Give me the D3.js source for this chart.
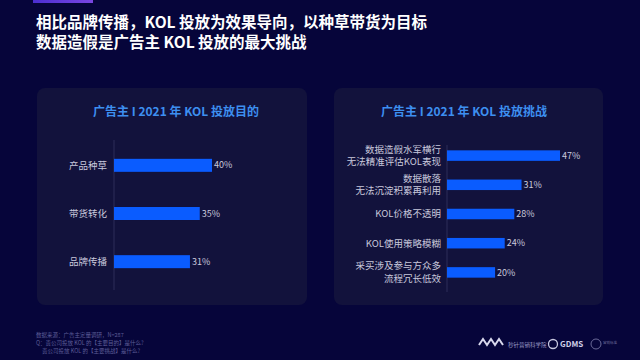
<!DOCTYPE html>
<html><head><meta charset="utf-8">
<script src="https://cdn.jsdelivr.net/npm/d3@7"></script>
<style>
html,body{margin:0;padding:0;background:#06053a;}
svg{display:block;font-family:"Noto Sans CJK SC","Noto Sans",sans-serif;}
</style></head>
<body>
<script>
const titleLines = ["相比品牌传播，KOL 投放为效果导向，以种草带货为目标", "数据造假是广告主 KOL 投放的最大挑战"];
const leftTitle = "广告主 I 2021 年 KOL 投放目的";
const rightTitle = "广告主 I 2021 年 KOL 投放挑战";
const purposeCats = ["产品种草", "带货转化", "品牌传播"];
const purposeVals = [40, 35, 31];
const challengeCats = [["数据造假水军横行", "无法精准评估KOL表现"], ["数据散落", "无法沉淀积累再利用"], ["KOL价格不透明"], ["KOL使用策略模糊"], ["采买涉及参与方众多", "流程冗长低效"]];
const challengeVals = [47, 31, 28, 24, 20];
const notes = ["数据来源：广告主定量调研，N=287", "Q：贵公司投放 KOL 的【主要目的】是什么?", "贵公司投放 KOL 的【主要挑战】是什么?"];

const W = 640, H = 360;
const svg = d3.select("body").append("svg").attr("width", W).attr("height", H);
const defs = svg.append("defs");
const g1 = defs.append("linearGradient").attr("id", "topbar").attr("x1", 0).attr("x2", 1);
g1.append("stop").attr("offset", 0).attr("stop-color", "#4b2fd0");
g1.append("stop").attr("offset", 1).attr("stop-color", "#7a46e0");
svg.append("rect").attr("width", W).attr("height", H).attr("fill", "#06053a");
svg.append("rect").attr("x", 33).attr("y", 0).attr("width", 60).attr("height", 3).attr("fill", "url(#topbar)");

svg.selectAll("text.title").data(titleLines).join("text")
  .attr("class", "title").attr("x", 36).attr("y", (d, i) => 28 + i * 20)
  .attr("fill", "#ffffff").attr("font-size", 15.5).attr("font-weight", 700).text(d => d);

// panels
const panels = [{x: 37, w: 270}, {x: 334, w: 269}];
svg.selectAll("rect.panel").data(panels).join("rect").attr("class", "panel")
  .attr("x", d => d.x).attr("y", 88).attr("width", d => d.w).attr("height", 217)
  .attr("rx", 8).attr("fill", "#12123c");

svg.append("text").attr("x", 176).attr("y", 116).attr("text-anchor", "middle")
  .attr("fill", "#3d8ff0").attr("font-size", 12).attr("font-weight", 700).text(leftTitle);
svg.append("text").attr("x", 464).attr("y", 116).attr("text-anchor", "middle")
  .attr("fill", "#3d8ff0").attr("font-size", 12).attr("font-weight", 700).text(rightTitle);

const barColor = "#0a5cff";
const labelColor = "#c9c9dc";

// left chart
const xL = d3.scaleLinear().domain([0, 40]).range([114, 212]);
const yL = d3.scaleBand().domain(purposeCats).range([141, 286]).paddingInner(0.73).paddingOuter(0.37);
svg.append("line").attr("x1", 114).attr("x2", 114).attr("y1", 140).attr("y2", 290).attr("stroke", "#2c2c58").attr("stroke-width", 1);
const gl = svg.append("g");
gl.selectAll("rect").data(purposeCats).join("rect")
  .attr("x", xL(0)).attr("y", d => yL(d)).attr("width", (d, i) => xL(purposeVals[i]) - xL(0))
  .attr("height", yL.bandwidth()).attr("fill", barColor);
gl.selectAll("text.cat").data(purposeCats).join("text").attr("class", "cat")
  .attr("x", 107).attr("y", d => yL(d) + yL.bandwidth() / 2).attr("dy", "0.35em")
  .attr("text-anchor", "end").attr("fill", labelColor).attr("font-size", 9.5).text(d => d);
gl.selectAll("text.val").data(purposeCats).join("text").attr("class", "val")
  .attr("x", (d, i) => xL(purposeVals[i]) + 2).attr("y", d => yL(d) + yL.bandwidth() / 2).attr("dy", "0.35em")
  .attr("fill", labelColor).attr("font-size", 9).text((d, i) => purposeVals[i] + "%");

// right chart
const keys = challengeCats.map(d => d.join(""));
const xR = d3.scaleLinear().domain([0, 47]).range([447, 560]);
const yR = d3.scaleBand().domain(keys).range([141, 287]).paddingInner(0.64).paddingOuter(0.32);
svg.append("line").attr("x1", 447).attr("x2", 447).attr("y1", 145).attr("y2", 292).attr("stroke", "#2c2c58").attr("stroke-width", 1);
const gr = svg.append("g");
gr.selectAll("rect").data(keys).join("rect")
  .attr("x", xR(0)).attr("y", d => yR(d)).attr("width", (d, i) => xR(challengeVals[i]) - xR(0))
  .attr("height", yR.bandwidth()).attr("fill", barColor);
gr.selectAll("text.val").data(keys).join("text").attr("class", "val")
  .attr("x", (d, i) => xR(challengeVals[i]) + 2).attr("y", d => yR(d) + yR.bandwidth() / 2).attr("dy", "0.35em")
  .attr("fill", labelColor).attr("font-size", 9).text((d, i) => challengeVals[i] + "%");
challengeCats.forEach((lines, i) => {
  const cy = yR(keys[i]) + yR.bandwidth() / 2;
  const t = gr.append("text").attr("text-anchor", "end").attr("fill", labelColor).attr("font-size", 9.5);
  lines.forEach((ln, j) => {
    t.append("tspan").attr("x", 441).attr("y", cy + (j - (lines.length - 1) / 2) * 12.5).attr("dy", "0.35em").text(ln);
  });
});

// notes
svg.selectAll("text.note").data(notes).join("text").attr("class", "note")
  .attr("x", (d, i) => i === 2 ? 42 : 36).attr("y", (d, i) => 337 + i * 8).attr("fill", "#5d5d98").attr("font-size", 5.5).text(d => d);

// logos (text-based)
const lg = svg.append("g").attr("fill", "#c0c0d8");
lg.append("path").attr("d", "M479,345 l4,-6 l4,6 l4,-6 l4,6 l4,-6 l4,6").attr("fill", "none").attr("stroke", "#d8d8ec").attr("stroke-width", 2);
lg.append("text").attr("x", 508).attr("y", 347).attr("font-size", 5.5).attr("fill", "#9a9ac4").text("秒针营销科学院");
lg.append("circle").attr("cx", 553).attr("cy", 344).attr("r", 4.5).attr("fill", "none").attr("stroke", "#c8c8e0").attr("stroke-width", 1.3);
lg.append("text").attr("x", 560).attr("y", 347).attr("font-size", 8).attr("font-weight", 700).attr("fill", "#d0d0e8").text("GDMS");
lg.append("circle").attr("cx", 596).attr("cy", 344).attr("r", 5).attr("fill", "none").attr("stroke", "#6a6a98").attr("stroke-width", 1);
lg.append("text").attr("x", 603).attr("y", 344).attr("font-size", 3.5).attr("fill", "#6a6a98").text("营销标准");
</script>
</body></html>
